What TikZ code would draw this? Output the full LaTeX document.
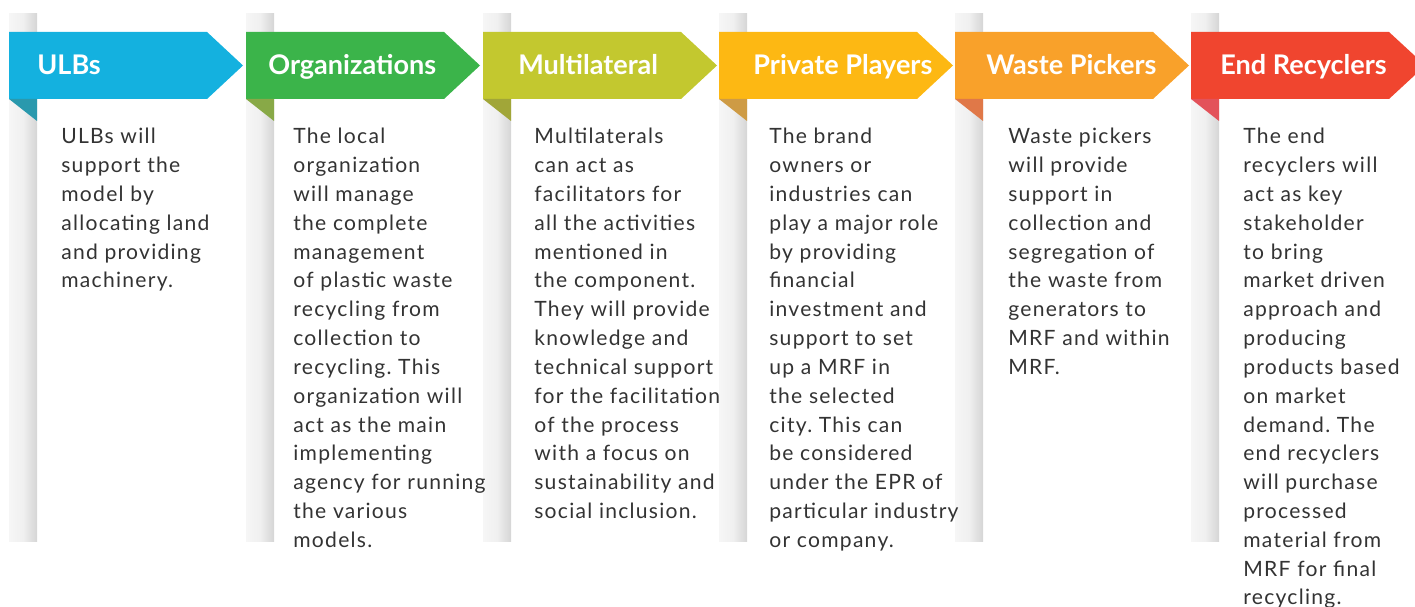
\documentclass[tikz,border=0pt]{standalone}
\usepackage{fontspec}
\setmainfont{Lato}
\newfontfamily\bodyfont[LetterSpace=6]{Lato}
\usepackage{tikz}
\usepackage{xcolor}
\frenchspacing
\definecolor{ulbblue}{HTML}{14B1DF}
\definecolor{ulbfold}{HTML}{2A99AD}
\definecolor{orggreen}{HTML}{3BB44A}
\definecolor{orgfold}{HTML}{88A947}
\definecolor{multigreen}{HTML}{C3C82F}
\definecolor{multifold}{HTML}{A1A638}
\definecolor{privgold}{HTML}{FDB813}
\definecolor{privfold}{HTML}{CE9B45}
\definecolor{pickorange}{HTML}{F9A12A}
\definecolor{pickfold}{HTML}{E07848}
\definecolor{recred}{HTML}{F0452F}
\definecolor{recfold}{HTML}{E3525A}
\definecolor{bodytext}{HTML}{333333}
\tikzset{
    grey-bar/.style = {left color=gray!7, right color=gray!33, middle color=gray!12},
    banner-title/.style = {text=white, font=\fontsize{15.4}{17}\selectfont\bfseries, inner sep=0pt, anchor=base west},
    body-text/.style = {text=bodytext, font=\bodyfont\fontsize{12}{16.4}\selectfont, inner sep=0pt, anchor=north west, align=left},
}

\begin{document}
\begin{tikzpicture}[x=0.02cm, y=-0.02cm]
\useasboundingbox (0,0) rectangle (1415,607);
% grey strips behind the banners
\shade[grey-bar] (9,14) rectangle (37,541);
\shade[grey-bar] (246,14) rectangle (274,541);
\shade[grey-bar] (483,14) rectangle (511,541);
\shade[grey-bar] (719,14) rectangle (747,541);
\shade[grey-bar] (955,14) rectangle (983,541);
\shade[grey-bar] (1191,14) rectangle (1219,541);
% banners
\fill[ulbblue] (9,32) -- (207,32) -- (243,65.5) -- (207,99) -- (9,99) -- cycle;
\fill[ulbfold] (9,99) -- (37,99) -- (37,121) -- cycle;
\fill[orggreen] (246,32) -- (444,32) -- (480,65.5) -- (444,99) -- (246,99) -- cycle;
\fill[orgfold] (246,99) -- (274,99) -- (274,121) -- cycle;
\fill[multigreen] (483,32) -- (681,32) -- (717,65.5) -- (681,99) -- (483,99) -- cycle;
\fill[multifold] (483,99) -- (511,99) -- (511,121) -- cycle;
\fill[privgold] (719,32) -- (917,32) -- (953,65.5) -- (917,99) -- (719,99) -- cycle;
\fill[privfold] (719,99) -- (747,99) -- (747,121) -- cycle;
\fill[pickorange] (955,32) -- (1153,32) -- (1189,65.5) -- (1153,99) -- (955,99) -- cycle;
\fill[pickfold] (955,99) -- (983,99) -- (983,121) -- cycle;
\fill[recred] (1191,32) -- (1389,32) -- (1415,56) -- (1415,75) -- (1389,99) -- (1191,99) -- cycle;
\fill[recfold] (1191,99) -- (1219,99) -- (1219,121) -- cycle;
% titles
\node[banner-title] (ulb) at (37,75) {ULBs};
\node[banner-title] (org) at (268,75) {Organizations};
\node[banner-title] (multi) at (518,75) {Multilateral};
\node[banner-title] (priv) at (753,75) {Private Players};
\node[banner-title] (pick) at (986,75) {Waste Pickers};
\node[banner-title] (rec) at (1220,75) {End Recyclers};
% descriptions
\node[body-text] (ulb-text) at (61,128) {ULBs will\\support the\\model by\\allocating land\\and providing\\machinery.};
\node[body-text] (org-text) at (293,128) {The local\\organization\\will manage\\the complete\\management\\of plastic waste\\recycling from\\collection to\\recycling. This\\organization will\\act as the main\\implementing\\agency for running\\the various\\models.};
\node[body-text] (multi-text) at (534,128) {Multilaterals\\can act as\\facilitators for\\all the activities\\mentioned in\\the component.\\They will provide\\knowledge and\\technical support\\for the facilitation\\of the process\\with a focus on\\sustainability and\\social inclusion.};
\node[body-text] (priv-text) at (769,128) {The brand\\owners or\\industries can\\play a major role\\by providing\\financial\\investment and\\support to set\\up a MRF in\\the selected\\city. This can\\be considered\\under the EPR of\\particular industry\\or company.};
\node[body-text] (pick-text) at (1008,128) {Waste pickers\\will provide\\support in\\collection and\\segregation of\\the waste from\\generators to\\MRF and within\\MRF.};
\node[body-text] (rec-text) at (1243,128) {The end\\recyclers will\\act as key\\stakeholder\\to bring\\market driven\\approach and\\producing\\products based\\on market\\demand. The\\end recyclers\\will purchase\\processed\\material from\\MRF for final\\recycling.};
\end{tikzpicture}
\end{document}
